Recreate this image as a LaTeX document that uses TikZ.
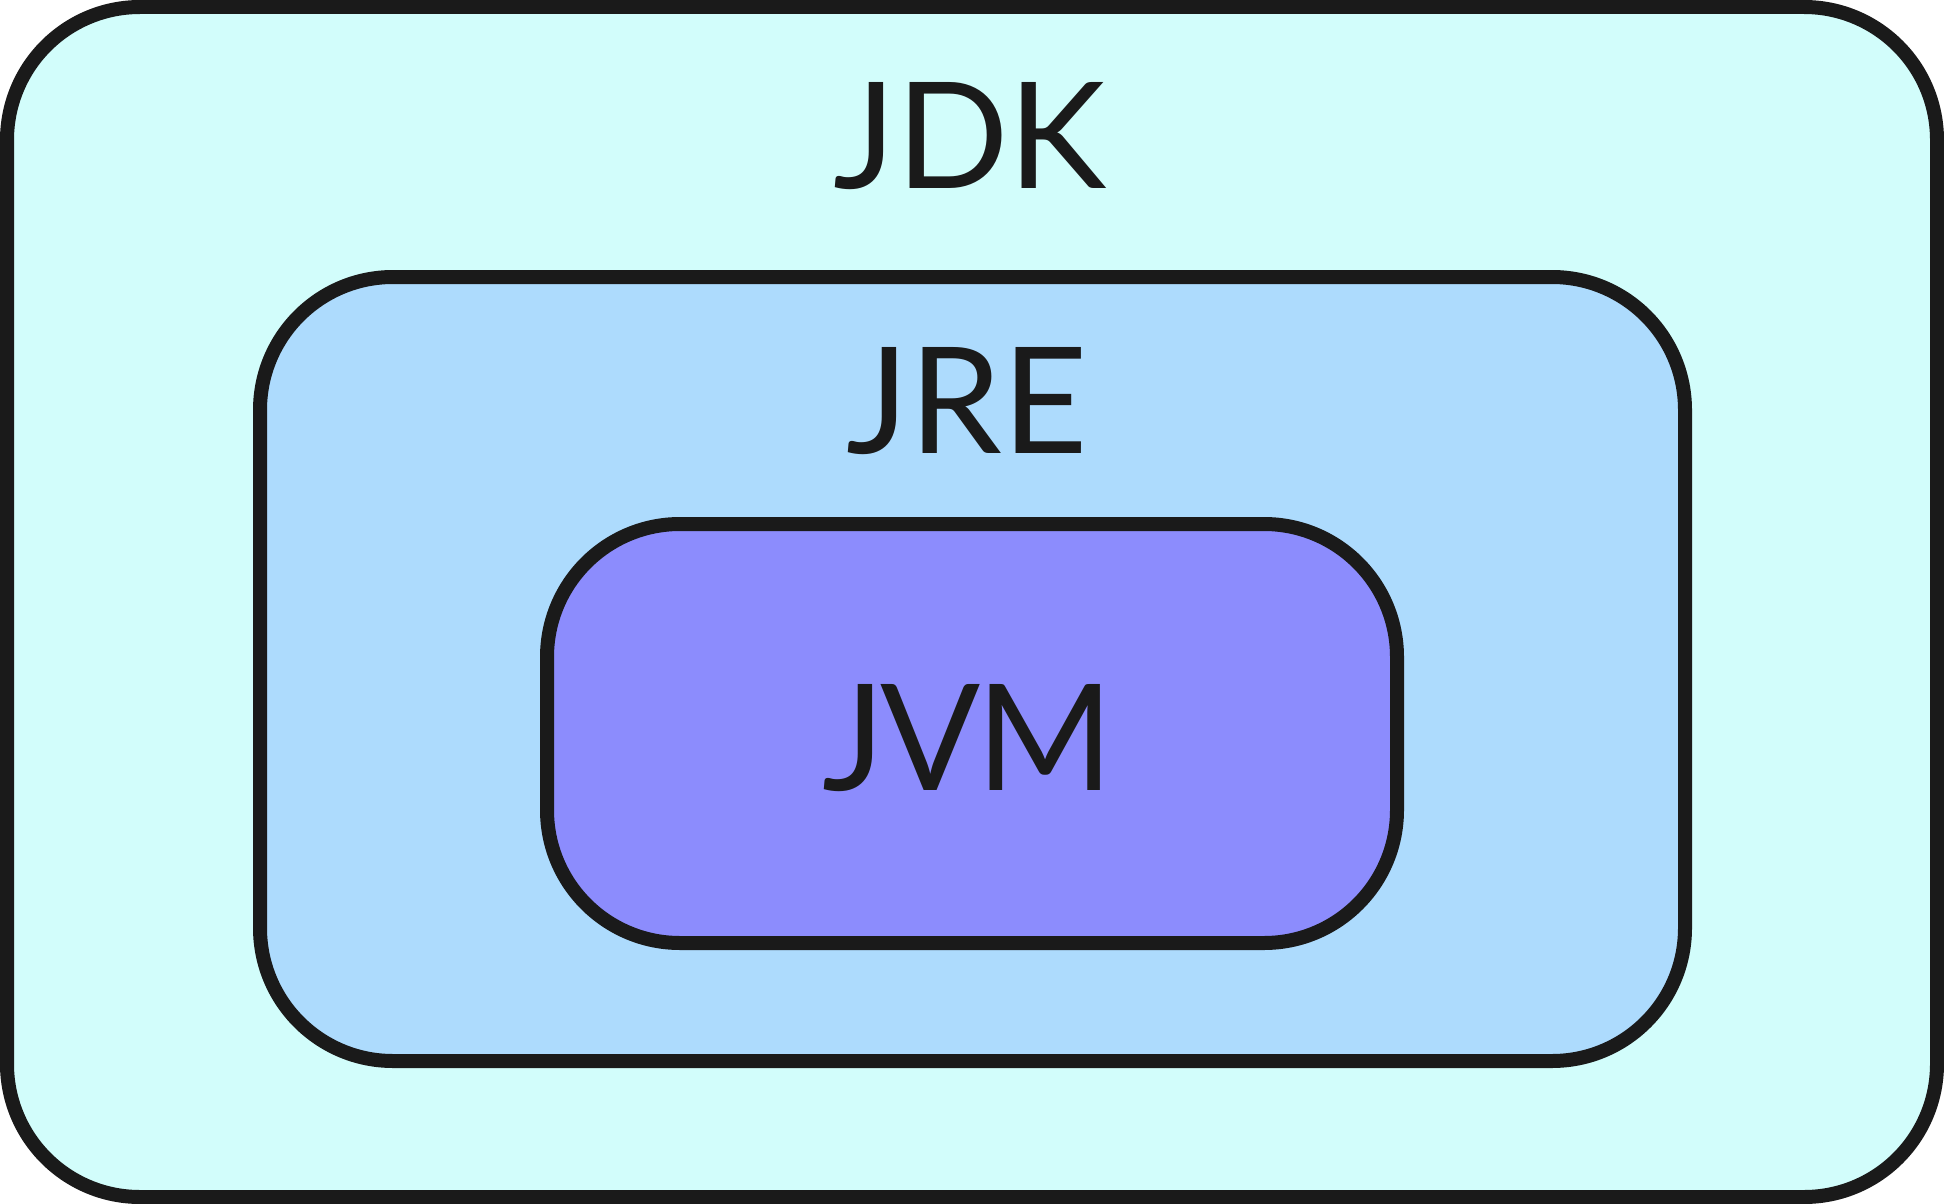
\documentclass[tikz,border=0pt]{standalone}
\usepackage{fontspec}
\setmainfont{Lato}
\definecolor{jdkfill}{RGB}{210,253,251}
\definecolor{jrefill}{RGB}{173,219,253}
\definecolor{jvmfill}{RGB}{140,140,253}
\definecolor{edge}{RGB}{26,26,26}
\begin{document}
\begin{tikzpicture}[x=1pt,y=-1pt,
  layer/.style={draw=edge,line width=14pt,rounded corners=133pt,rectangle,inner sep=0pt,outer sep=0pt},
  title/.style={anchor=base,inner sep=0pt,font=\fontsize{148}{160}\selectfont,text=edge}]
\useasboundingbox (0,0) rectangle (1944,1204);
\node[layer,fill=jdkfill,minimum width=1930pt,minimum height=1190pt] (jdk) at (972,602) {};
\node[layer,fill=jrefill,minimum width=1425pt,minimum height=784pt] (jre) at (972.5,669) {};
\node[layer,fill=jvmfill,minimum width=850pt,minimum height=419pt] (jvm) at (972,733.5) {};
\node[title] (jdkt) at (970,188) {JDK};
\node[title] (jret) at (967,453) {JRE};
\node[title] (jvmt) at (968,790) {\addfontfeature{LetterSpace=-3}JVM};
\end{tikzpicture}
\end{document}
